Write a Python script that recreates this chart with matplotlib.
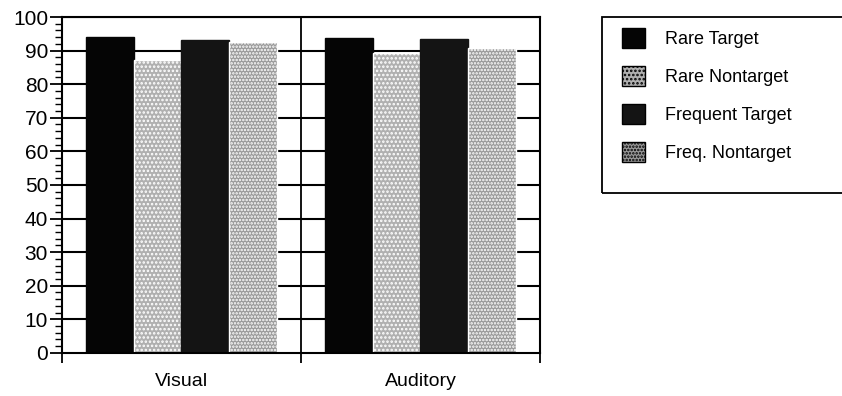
import matplotlib.pyplot as plt
import matplotlib.patches as mpatches
import numpy as np

plt.rcParams['font.family'] = ['Liberation Sans', 'DejaVu Sans']
plt.rcParams['hatch.color'] = '#555555'
plt.rcParams['hatch.linewidth'] = 1.2

categories = ['Visual', 'Auditory']
series_names = ['Rare Target', 'Rare Nontarget', 'Frequent Target', 'Freq. Nontarget']
values = {
    'Rare Target': [94.0, 93.8],
    'Rare Nontarget': [87.2, 89.2],
    'Frequent Target': [93.2, 93.6],
    'Freq. Nontarget': [92.6, 90.8],
}
colors = ['#050505', '#b0b0b0', '#141414', '#999999']
hatches = [None, '....', None, '.....']
yticks = list(range(0, 101, 10))

fig = plt.figure(figsize=(8.42, 3.96), dpi=100)
ax = fig.add_axes([0.0736, 0.109, 0.5676, 0.848])

x = np.arange(len(categories))
width = 0.2
offsets = [-0.3, -0.1, 0.1, 0.3]

# gridlines behind the bars
for yv in yticks[1:]:
    ax.axhline(yv, color='black', lw=1.5, zorder=0)
ax.axvline(0.5, color='black', lw=1.3, zorder=0)

handles = []
for name, off, c, h in zip(series_names, offsets, colors, hatches):
    ax.bar(x + off, values[name], width, color=c, edgecolor='white' if h else c,
           linewidth=1.0, hatch=h, zorder=2)
    handles.append(mpatches.Patch(facecolor=c, edgecolor='black', hatch=h, lw=1))

ax.set_xlim(-0.5, 1.5)
ax.set_ylim(0, 100)
ax.set_yticks(yticks)
ax.set_yticks(np.arange(0, 101, 2), minor=True)
ax.tick_params(axis='y', which='major', direction='out', length=9, width=1.3, labelsize=15, pad=1)
ax.tick_params(axis='y', which='minor', direction='out', length=5, width=1.0)

ax.set_xticks([-0.5, 0.5, 1.5])
ax.set_xticklabels([])
ax.tick_params(axis='x', direction='out', length=7, width=1.3)
for xi, cat in zip(x, categories):
    ax.text(xi, -6.0, cat, ha='center', va='top', fontsize=14)

for s in ax.spines.values():
    s.set_linewidth(1.5)

fig.legend(handles, series_names, loc='upper left', bbox_to_anchor=(0.719, 0.97),
           frameon=False, fontsize=13, handlelength=1.3, handleheight=1.3,
           labelspacing=1.0, handletextpad=1.1)
fig.patches.append(mpatches.Rectangle((602 / 842, 1 - 193 / 396), 0.3, 176 / 396,
                                      transform=fig.transFigure, fill=False,
                                      edgecolor='black', lw=1.3))

fig.savefig('out.png', dpi=100)
